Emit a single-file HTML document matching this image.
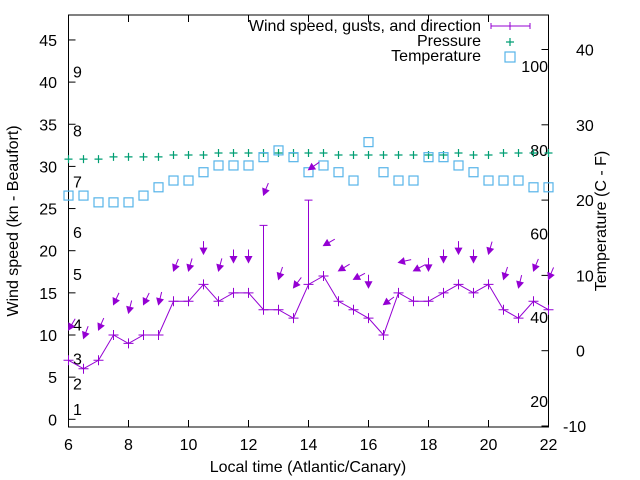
<!DOCTYPE html>
<html><head><meta charset="utf-8"><style>
body{margin:0;background:#fff}
svg{display:block;font-family:"Liberation Sans",Arial,sans-serif;font-size:16px}
</style></head><body>
<svg id="chart" width="640" height="480" viewBox="0 0 640 480">
<g id="axes"></g><g id="marks"></g>
<text x="308" y="472" text-anchor="middle">Local time (Atlantic/Canary)</text>
<text transform="translate(18,221) rotate(-90)" text-anchor="middle">Wind speed (kn - Beaufort)</text>
<text transform="translate(606,221) rotate(-90)" text-anchor="middle">Temperature (C - F)</text>
<g>
<text x="481" y="31" text-anchor="end">Wind speed, gusts, and direction</text>
<path d="M491 26H530M491 23V29M530 23V29M510 22V30M506 26H514" stroke="#9400d3" stroke-width="1" fill="none"/>
<text x="481" y="46" text-anchor="end">Pressure</text>
<path d="M510 38V46M506 42H514" stroke="#009e73" stroke-width="1.2"/>
<text x="481" y="61" text-anchor="end">Temperature</text>
<rect x="505" y="52" width="10" height="10" fill="none" stroke="#56b4e9" stroke-width="1.2"/>
</g>
</svg>
<script>
const times=[6,6.5,7,7.5,8,8.5,9,9.5,10,10.5,11,11.5,12,12.5,13,13.5,14,14.5,15,15.5,16,16.5,17,17.5,18,18.5,19,19.5,20,20.5,21,21.5,22];
const speed=[7,6,7,10,9,10,10,14,14,16,14,15,15,13,13,12,16,17,14,13,12,10,15,14,14,15,16,15,16,13,12,14,13];
const gust=[7,6,7,10,9,10,10,14,14,16,14,15,15,23,13,12,26,17,14,13,12,10,15,14,14,15,16,15,16,13,12,14,13];
const dir=[31,21,24,25,14,26,14,22,16,0,15,0,0,22,18,37,55,60,59,62,0,54,77,62,0,0,0,0,16,18,14,22,23];
const pressure=[30.86,30.86,30.86,31.13,31.13,31.13,31.13,31.35,31.35,31.35,31.59,31.59,31.59,31.59,31.59,31.59,31.59,31.59,31.35,31.35,31.35,31.35,31.35,31.35,31.35,31.35,31.59,31.35,31.35,31.59,31.59,31.59,31.59];
const temp=[20.6,20.6,19.7,19.7,19.7,20.6,21.7,22.6,22.6,23.7,24.6,24.6,24.6,25.7,26.6,25.7,23.7,24.6,23.7,22.6,27.7,23.7,22.6,22.6,25.7,25.7,24.6,23.7,22.6,22.6,22.6,21.7,21.7];
const xTicks=[6,8,10,12,14,16,18,20,22];
const yTicks=[0,5,10,15,20,25,30,35,40,45];
const y2Ticks=[-10,0,10,20,30,40];
const fTicks=[20,40,60,80,100];
const bftLabels=["1","2","3","4","5","6","7","8","9"];
const bftLimits=[1,4,7,11,17,22,28,34,41];

const L=68.5,R=548.5,T=15,B=427;
const X=t=>L+(t-6)*(R-L)/16;
const Y=v=>419.3-v*8.43;
const Y2=c=>350.7-c*7.53;
const NS="http://www.w3.org/2000/svg";
const ax=document.getElementById('axes'),mk=document.getElementById('marks');
function el(tag,attrs,parent,txt){const e=document.createElementNS(NS,tag);for(const k in attrs)e.setAttribute(k,attrs[k]);if(txt!==undefined)e.textContent=txt;parent.appendChild(e);return e;}

const border=el('rect',{x:L,y:T,width:R-L,height:B-T,fill:'none',stroke:'#000','stroke-width':1},ax);


xTicks.forEach(t=>{
  const p=el('path',{d:`M${X(t)} ${B}V${B-7}M${X(t)} ${T}V${T+7}`,stroke:'#000'},ax);
  
  
  const s=el('text',{x:X(t),y:450,'text-anchor':'middle'},ax,String(t));
  
  
});
yTicks.forEach(v=>{
  const p=el('path',{d:`M${L} ${Y(v)}H${L+7}`,stroke:'#000'},ax);
  
  
  const s=el('text',{x:57,y:Y(v)+6,'text-anchor':'end'},ax,String(v));
  
  
});
y2Ticks.forEach(c=>{
  const p=el('path',{d:`M${R} ${Y2(c)}H${R-7}`,stroke:'#000'},ax);
  
  
  const s=el('text',{x:c<0?563:576,y:Y2(c)+6},ax,String(c));
  
  
});
fTicks.forEach(f=>{
  const s=el('text',{x:548,y:Y2((f-32)*5/9)+6,'text-anchor':'end'},ax,String(f));
  
  
});
bftLabels.forEach((b,i)=>{
  const s=el('text',{x:73,y:Y(bftLimits[i])+4},ax,b);
  
  
});
// pressure
times.forEach((t,i)=>{
  const x=X(t),y=Y(pressure[i]);
  const p=el('path',{d:`M${x-4} ${y}H${x+4}M${x} ${y-4}V${y+4}`,stroke:'#009e73','stroke-width':1.2},mk);
  
  
});
// temperature
times.forEach((t,i)=>{
  const r=el('rect',{x:X(t)-4.5,y:Y2(temp[i])-4.5,width:9,height:9,fill:'none',stroke:'#56b4e9','stroke-width':1.2},mk);
  
  
});
// wind line
const line=el('polyline',{points:times.map((t,i)=>X(t)+','+Y(speed[i])).join(' '),fill:'none',stroke:'#9400d3','stroke-width':1},mk);


times.forEach((t,i)=>{
  const x=X(t),y=Y(speed[i]);
  const p=el('path',{d:`M${x-5} ${y}H${x+5}M${x} ${y-5}V${y+5}`,stroke:'#9400d3','stroke-width':1},mk);
  
  
  if(gust[i]>speed[i]){
    const g=el('path',{d:`M${x} ${y}V${Y(gust[i])}M${x-4} ${Y(gust[i])}H${x+4}`,stroke:'#9400d3','stroke-width':1},mk);
    
    
  }
  const top=Math.max(speed[i],gust[i])+3.6;
  const hx=x,hy=Y(top),a=dir[i]*Math.PI/180;
  const ux=Math.sin(a),uy=-Math.cos(a);
  const tx=hx+ux*13,ty=hy+uy*13;
  const bx=hx+ux*6,by=hy+uy*6,px=-uy*3.2,py=ux*3.2;
  const ar=el('path',{d:`M${tx} ${ty}L${bx} ${by}M${hx} ${hy}L${bx+px} ${by+py}L${bx-px} ${by-py}Z`,stroke:'#9400d3',fill:'#9400d3','stroke-width':1},mk);
  
  
});
</script>
</body></html>
